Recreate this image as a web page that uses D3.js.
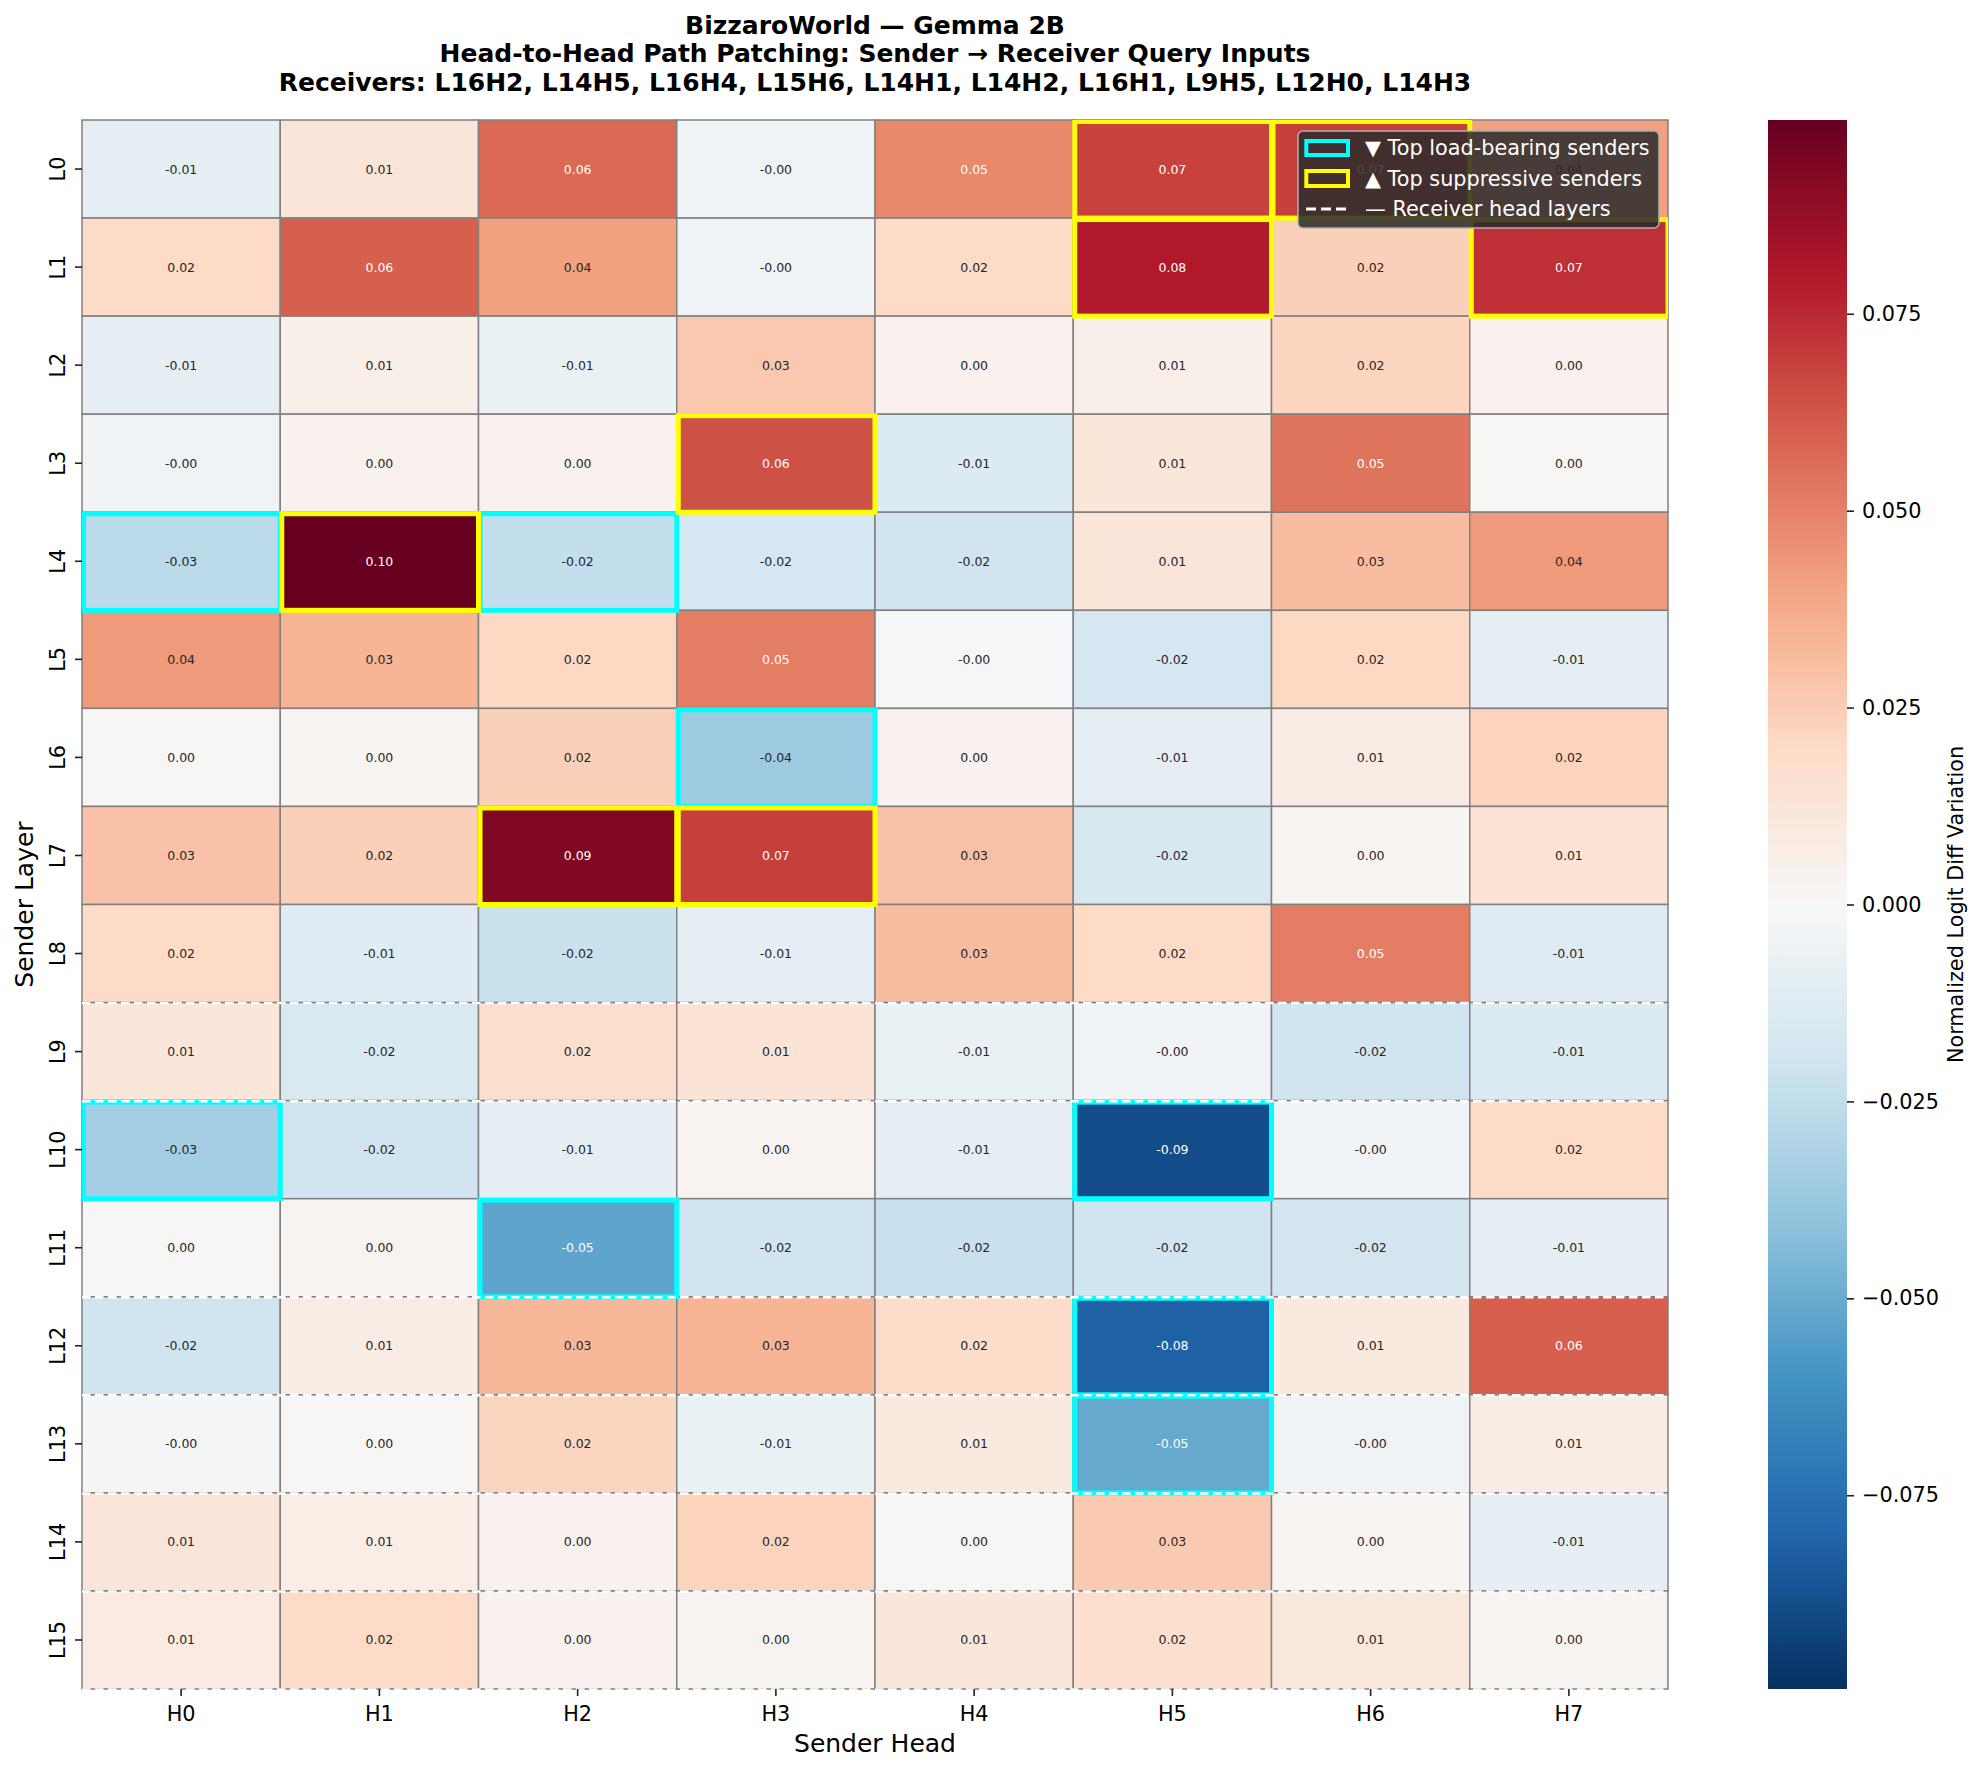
<!DOCTYPE html>
<html>
<head>
<meta charset="utf-8">
<script src="https://cdn.jsdelivr.net/npm/d3@7"></script>
<style>
  body { margin: 0; background: #fff; }
  text { font-family: "DejaVu Sans", sans-serif; }
</style>
</head>
<body>
<div id="chart"></div>
<script>
var width = 1981;
var height = 1772;

// ---- data ----
var heads = ["H0", "H1", "H2", "H3", "H4", "H5", "H6", "H7"];
var layers = ["L0", "L1", "L2", "L3", "L4", "L5", "L6", "L7",
              "L8", "L9", "L10", "L11", "L12", "L13", "L14", "L15"];
var receivers = ["L16H2", "L14H5", "L16H4", "L15H6", "L14H1",
                 "L14H2", "L16H1", "L9H5", "L12H0", "L14H3"];
// one row per sender layer, one column per sender head
var values = [
  [-0.010,  0.013,  0.057, -0.004,  0.048,  0.068,  0.069,  0.041],
  [ 0.020,  0.060,  0.041, -0.004,  0.020,  0.080,  0.024,  0.073],
  [-0.010,  0.006, -0.007,  0.027,  0.004,  0.006,  0.022,  0.004],
  [-0.004,  0.004,  0.004,  0.064, -0.014,  0.012,  0.054,  0.001],
  [-0.027,  0.0996, -0.0244, -0.018, -0.020, 0.013,  0.031,  0.043],
  [ 0.043,  0.034,  0.021,  0.051, -0.001, -0.018,  0.021, -0.010],
  [ 0.001,  0.002,  0.024, -0.036,  0.004, -0.010,  0.008,  0.023],
  [ 0.029,  0.024,  0.093,  0.069,  0.030, -0.017,  0.002,  0.014],
  [ 0.020, -0.012, -0.022, -0.010,  0.031,  0.020,  0.051, -0.013],
  [ 0.012, -0.016,  0.018,  0.014, -0.007, -0.003, -0.020, -0.014],
  [-0.034, -0.020, -0.009,  0.003, -0.010, -0.089, -0.003,  0.020],
  [ 0.0005, 0.003, -0.053, -0.020, -0.0225, -0.020, -0.019, -0.010],
  [-0.020,  0.008,  0.033,  0.034,  0.019, -0.0815, 0.010,  0.060],
  [-0.002,  0.001,  0.022, -0.007,  0.010, -0.051, -0.004,  0.008],
  [ 0.013,  0.007,  0.004,  0.023,  0.001,  0.026,  0.002, -0.009],
  [ 0.009,  0.020,  0.004,  0.003,  0.012,  0.017,  0.011,  0.002]
];
var cbarTicks = [-0.075, -0.05, -0.025, 0, 0.025, 0.05, 0.075];
var topK = 8; // how many senders get boxed on each side
var titleLines = [
  "BizzaroWorld \u2014 Gemma 2B",
  "Head-to-Head Path Patching: Sender \u2192 Receiver Query Inputs",
  "Receivers: " + receivers.join(", ")
];
var legendLabels = ["\u25BC Top load-bearing senders",
                    "\u25B2 Top suppressive senders",
                    "\u2014 Receiver head layers"];

// RdBu_r, the 11 brewer colours matplotlib interpolates linearly
var rdbu_r = ["#053061", "#2166ac", "#4393c3", "#92c5de", "#d1e5f0", "#f7f7f7",
              "#fddbc7", "#f4a582", "#d6604d", "#b2182b", "#67001f"];

// plot area
var x0 = 82, x1 = 1668, y0 = 120, y1 = 1689;
var cbX0 = 1768, cbX1 = 1847;

var svg = d3.select("#chart").append("svg")
  .attr("width", width)
  .attr("height", height);
svg.append("rect").attr("width", width).attr("height", height).attr("fill", "#fff");

var x = d3.scaleBand().domain(heads).range([x0, x1]);
var y = d3.scaleBand().domain(layers).range([y0, y1]);

var vmax = d3.max(values, function(r) { return d3.max(r, Math.abs); });
var color = d3.scaleLinear()
  .domain(d3.range(11).map(function(i) { return -vmax + i * 2 * vmax / 10; }))
  .range(rdbu_r)
  .interpolate(d3.interpolateRgb)
  .clamp(true);

function fmt(v) { return (v < 0 ? "-" : "") + Math.abs(v).toFixed(2); }

function luminance(c) {
  var rgb = d3.rgb(c);
  var f = function(ch) {
    ch = ch / 255;
    return ch <= 0.03928 ? ch / 12.92 : Math.pow((ch + 0.055) / 1.055, 2.4);
  };
  return 0.2126 * f(rgb.r) + 0.7152 * f(rgb.g) + 0.0722 * f(rgb.b);
}

// flatten the grid
var cells = [];
values.forEach(function(row, i) {
  row.forEach(function(v, j) {
    cells.push({layer: layers[i], head: heads[j], v: v});
  });
});

// heat cells
svg.append("g").selectAll("rect")
  .data(cells)
  .join("rect")
  .attr("x", function(d) { return x(d.head); })
  .attr("y", function(d) { return y(d.layer); })
  .attr("width", x.bandwidth())
  .attr("height", y.bandwidth())
  .attr("fill", function(d) { return color(d.v); })
  .attr("stroke", "gray")
  .attr("stroke-width", 1.5);

// annotations
svg.append("g").selectAll("text")
  .data(cells)
  .join("text")
  .attr("x", function(d) { return x(d.head) + x.bandwidth() / 2; })
  .attr("y", function(d) { return y(d.layer) + y.bandwidth() / 2; })
  .attr("text-anchor", "middle")
  .attr("dominant-baseline", "central")
  .attr("font-size", 12.5)
  .attr("fill", function(d) { return luminance(color(d.v)) > 0.408 ? "#262626" : "#fff"; })
  .text(function(d) { return fmt(d.v); });

// highlight boxes
var sorted = cells.slice().sort(function(a, b) { return a.v - b.v; });
var loadBearing = sorted.slice(0, topK);
var suppressive = sorted.slice(-topK);

svg.append("clipPath").attr("id", "axclip")
  .append("rect").attr("x", x0).attr("y", y0).attr("width", x1 - x0).attr("height", y1 - y0);

var boxes = svg.append("g").attr("clip-path", "url(#axclip)");
function drawBoxes(list, col) {
  boxes.append("g").selectAll("rect")
    .data(list)
    .join("rect")
    .attr("x", function(d) { return x(d.head) + 1.5; })
    .attr("y", function(d) { return y(d.layer) + 1.5; })
    .attr("width", x.bandwidth() - 1.5)
    .attr("height", y.bandwidth() - 1.5)
    .attr("fill", "none")
    .attr("stroke", col)
    .attr("stroke-width", 5);
}
drawBoxes(loadBearing, "cyan");
drawBoxes(suppressive, "yellow");

// receiver layer lines (top and bottom of each receiver layer row)
var rxLayers = Array.from(new Set(receivers.map(function(r) { return +r.match(/^L(\d+)/)[1]; })));
var lineRows = [];
rxLayers.forEach(function(l) {
  [l, l + 1].forEach(function(b) {
    if (b <= layers.length && lineRows.indexOf(b) < 0) lineRows.push(b);
  });
});
var rowPos = function(b) { return y0 + b * y.step(); };
svg.append("g").selectAll("line")
  .data(lineRows)
  .join("line")
  .attr("x1", x0).attr("x2", x1)
  .attr("y1", function(b) { return rowPos(b) + 0.5; })
  .attr("y2", function(b) { return rowPos(b) + 0.5; })
  .attr("stroke", "#fff")
  .attr("stroke-width", 2.5)
  .attr("stroke-dasharray", "8.5,4.5");

// axes
var xAxis = svg.append("g")
  .attr("transform", "translate(0," + y1 + ")")
  .call(d3.axisBottom(x).tickSize(7).tickPadding(10));
xAxis.select(".domain").remove();
xAxis.selectAll("line").attr("stroke", "#222").attr("stroke-width", 1.6);
xAxis.selectAll("text").attr("font-size", 20.8).attr("fill", "#000")
  .attr("font-family", "DejaVu Sans");

var yAxis = svg.append("g")
  .attr("transform", "translate(" + x0 + ",0)")
  .call(d3.axisLeft(y).tickSize(7));
yAxis.select(".domain").remove();
yAxis.selectAll("line").attr("stroke", "#222").attr("stroke-width", 1.6);
yAxis.selectAll("text")
  .attr("x", null).attr("dy", null)
  .attr("text-anchor", "middle")
  .attr("transform", "translate(-17,0) rotate(-90)")
  .attr("font-size", 20.8).attr("fill", "#000")
  .attr("font-family", "DejaVu Sans");

svg.append("text")
  .attr("x", (x0 + x1) / 2).attr("y", 1751.5)
  .attr("text-anchor", "middle")
  .attr("font-size", 25)
  .text("Sender Head");
svg.append("text")
  .attr("transform", "translate(33," + (y0 + y1) / 2 + ") rotate(-90)")
  .attr("text-anchor", "middle")
  .attr("font-size", 25)
  .text("Sender Layer");

// title
svg.append("g").selectAll("text")
  .data(titleLines)
  .join("text")
  .attr("x", (x0 + x1) / 2)
  .attr("y", function(d, i) { return 34 + i * 28.35; })
  .attr("text-anchor", "middle")
  .attr("font-size", 25)
  .attr("font-weight", "bold")
  .text(function(d) { return d; });

// colorbar
var cbScale = d3.scaleLinear().domain([-vmax, vmax]).range([y1, y0]);
var grad = svg.append("defs").append("linearGradient")
  .attr("id", "cbgrad")
  .attr("x1", 0).attr("y1", 1).attr("x2", 0).attr("y2", 0);
grad.selectAll("stop")
  .data(rdbu_r)
  .join("stop")
  .attr("offset", function(d, i) { return i / 10; })
  .attr("stop-color", function(d) { return d; });
svg.append("rect")
  .attr("x", cbX0).attr("y", y0)
  .attr("width", cbX1 - cbX0).attr("height", y1 - y0)
  .attr("fill", "url(#cbgrad)");
var cbAxis = svg.append("g")
  .attr("transform", "translate(" + cbX1 + ",0)")
  .call(d3.axisRight(cbScale).tickValues(cbarTicks).tickSize(7).tickPadding(8)
    .tickFormat(function(v) { return (v < 0 ? "\u2212" : "") + Math.abs(v).toFixed(3); }));
cbAxis.select(".domain").remove();
cbAxis.selectAll("line").attr("stroke", "#222").attr("stroke-width", 1.6);
cbAxis.selectAll("text").attr("font-size", 20.8).attr("fill", "#000")
  .attr("font-family", "DejaVu Sans");
svg.append("text")
  .attr("transform", "translate(1963," + (y0 + y1) / 2 + ") rotate(-90)")
  .attr("text-anchor", "middle")
  .attr("font-size", 20.8)
  .text("Normalized Logit Diff Variation");

// legend
var lg = svg.append("g");
lg.append("rect")
  .attr("x", 1298).attr("y", 131).attr("width", 361).attr("height", 97)
  .attr("rx", 5)
  .attr("fill", "#2b2b2b").attr("fill-opacity", 0.86)
  .attr("stroke", "#b0b0b0").attr("stroke-width", 1.5);
var rowY = [148, 178.5, 209];
lg.append("rect").attr("x", 1306.3).attr("y", rowY[0] - 7).attr("width", 41.7).attr("height", 14)
  .attr("fill", "none").attr("stroke", "cyan").attr("stroke-width", 4);
lg.append("rect").attr("x", 1306.3).attr("y", rowY[1] - 7.5).attr("width", 41.7).attr("height", 15)
  .attr("fill", "none").attr("stroke", "yellow").attr("stroke-width", 4);
lg.append("line").attr("x1", 1306).attr("x2", 1349).attr("y1", rowY[2]).attr("y2", rowY[2])
  .attr("stroke", "#fff").attr("stroke-width", 3).attr("stroke-dasharray", "10,5");
lg.selectAll("text.lab")
  .data(legendLabels)
  .join("text")
  .attr("class", "lab")
  .attr("x", 1365)
  .attr("y", function(d, i) { return rowY[i] + 7; })
  .attr("font-size", 20.8)
  .attr("fill", "#fff")
  .text(function(d) { return d; });
</script>
</body>
</html>
